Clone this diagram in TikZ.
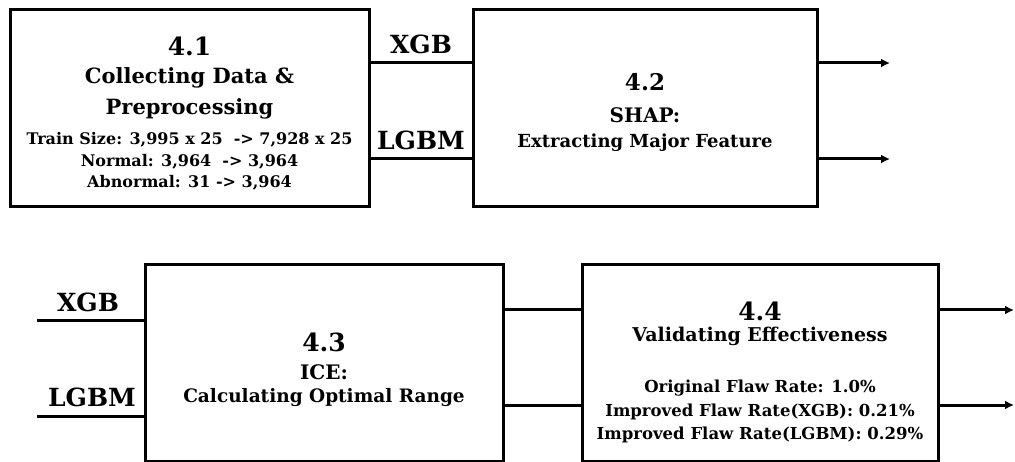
\documentclass[tikz,border=0pt]{standalone}
\usepackage{fontspec}
\setmainfont{DejaVu Serif}
\usetikzlibrary{arrows.meta}
\begin{document}
\begin{tikzpicture}[x=1pt,y=-1pt,
  box/.style={draw, line width=3pt, inner sep=0pt},
  conn/.style={line width=3pt},
  arr/.style={line width=3pt, -{Latex[length=9pt,width=9pt]}},
  txt/.style={inner sep=0pt, anchor=center, font=\bfseries},
  fs/.style={txt, font=\bfseries\fontsize{#1}{#1}\selectfont},
  lbl/.style={fs=25},
]
\useasboundingbox (0,0) rectangle (1015,462);
% boxes
\node[box, minimum width=359pt, minimum height=197pt] (b1) at (189.5,108.5) {};
\node[box, minimum width=344pt, minimum height=197pt] (b2) at (645,108.5) {};
\node[box, minimum width=358pt, minimum height=196pt] (b3) at (324,363) {};
\node[box, minimum width=356pt, minimum height=196pt] (b4) at (760,363) {};
% coordinates
\coordinate (o1) at (890,63);
\coordinate (o2) at (890,159);
\coordinate (in1) at (37,321);
\coordinate (in2) at (37,416);
\coordinate (m1) at (1014,310);
\coordinate (m2) at (1014,405);
% connectors
\draw[conn] (b1.east |- o1) -- (b2.west |- o1);
\draw[conn] (b1.east |- o2) -- (b2.west |- o2);
\draw[arr] (b2.east |- o1) -- (o1);
\draw[arr] (b2.east |- o2) -- (o2);
\draw[conn] (in1) -- (b3.west |- in1);
\draw[conn] (in2) -- (b3.west |- in2);
\draw[conn] (b3.east |- m1) -- (b4.west |- m1);
\draw[conn] (b3.east |- m2) -- (b4.west |- m2);
\draw[arr] (b4.east |- m1) -- (m1);
\draw[arr] (b4.east |- m2) -- (m2);
% connector labels
\node[lbl] (lx1) at (421,44) {XGB};
\node[lbl] (ll1) at (421,140) {LGBM};
\node[lbl] (lx2) at (88,302) {XGB};
\node[lbl] (ll2) at (92,397) {LGBM};
% box 4.1
\node[fs=25] (t11) at (189.5,46) {4.1};
\node[fs=21] (t12) at (189.5,78) {Collecting Data \&};
\node[fs=21] (t13) at (189.5,109) {Preprocessing};
\node[fs=16] (t14) at (189.5,140) {Train Size: 3,995 x 25 \ -> 7,928 x 25};
\node[fs=16] (t15) at (189.5,162) {Normal: 3,964 \ -> 3,964};
\node[fs=16] (t16) at (189.5,183) {Abnormal: 31 -> 3,964};
% box 4.2
\node[fs=23] (t21) at (645,82) {4.2};
\node[fs=20] (t22) at (645,115) {SHAP:};
\node[fs=18] (t23) at (645,143) {Extracting Major Feature};
% box 4.3
\node[fs=25] (t31) at (324,342) {4.3};
\node[fs=20] (t32) at (324,372) {ICE:};
\node[fs=18.5] (t33) at (324,398) {Calculating Optimal Range};
% box 4.4
\node[fs=25] (t41) at (760,311) {4.4};
\node[fs=19] (t42) at (760,336) {Validating Effectiveness};
\node[fs=16.5] (t43) at (760,388) {Original Flaw Rate: 1.0\%};
\node[fs=16.5] (t44) at (760,412) {Improved Flaw Rate(XGB): 0.21\%};
\node[fs=16.5] (t45) at (760,435) {Improved Flaw Rate(LGBM): 0.29\%};
\end{tikzpicture}
\end{document}
